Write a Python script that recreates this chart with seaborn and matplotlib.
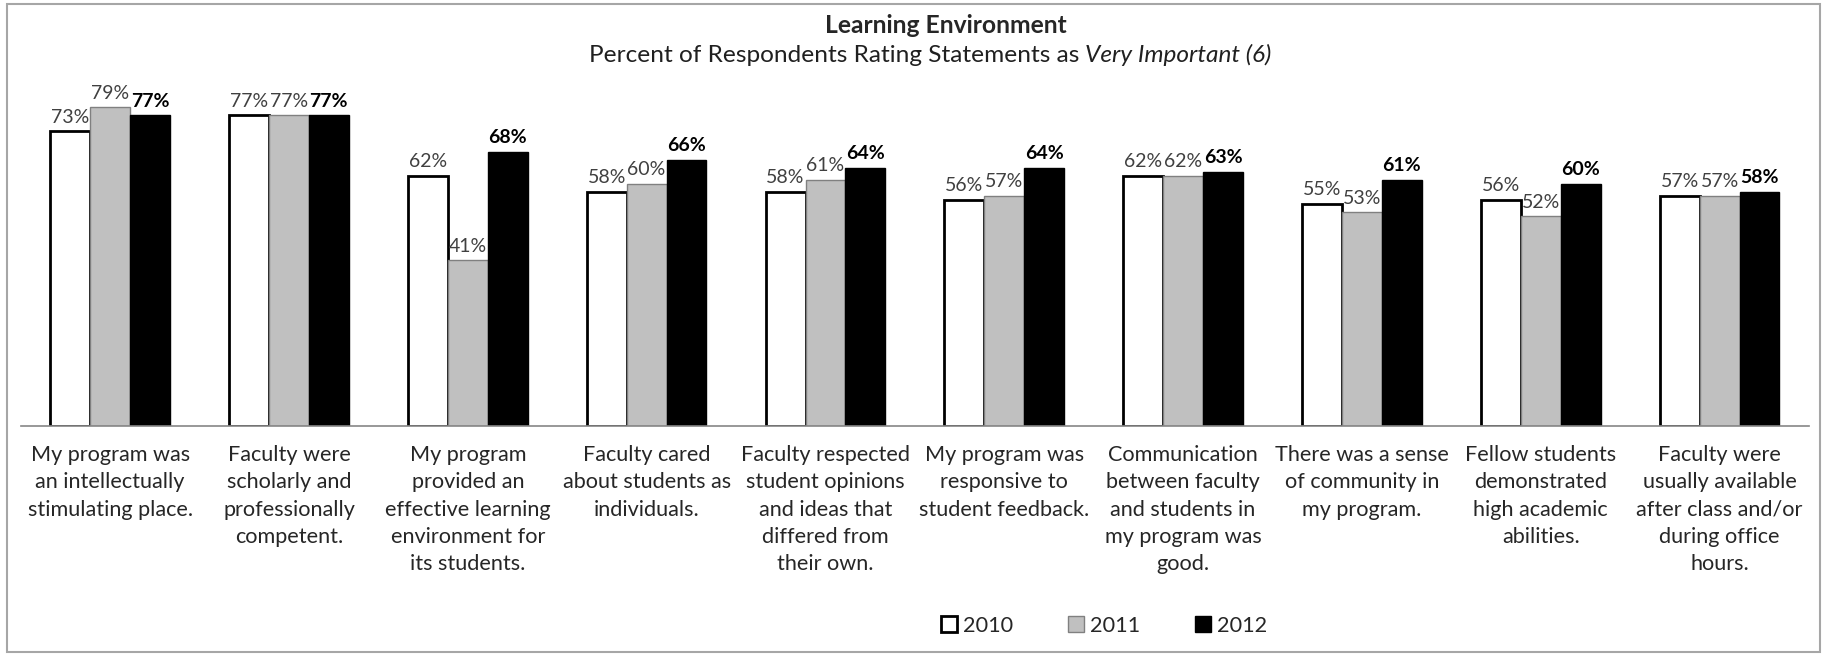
import matplotlib
matplotlib.use('Agg')
import matplotlib.pyplot as plt
import numpy as np
import pandas as pd
import seaborn as sns
from matplotlib.patches import Patch, Rectangle

# Data
statements = [
    'My program was\nan intellectually\nstimulating place.',
    'Faculty were\nscholarly and\nprofessionally\ncompetent.',
    'My program\nprovided an\neffective learning\nenvironment for\nits students.',
    'Faculty cared\nabout students as\nindividuals.',
    'Faculty respected\nstudent opinions\nand ideas that\ndiffered from\ntheir own.',
    'My program was\nresponsive to\nstudent feedback.',
    'Communication\nbetween faculty\nand students in\nmy program was\ngood.',
    'There was a sense\nof community in\nmy program.',
    'Fellow students\ndemonstrated\nhigh academic\nabilities.',
    'Faculty were\nusually available\nafter class and/or\nduring office\nhours.',
]
years = ['2010', '2011', '2012']
pct_2010 = [73, 77, 62, 58, 58, 56, 62, 55, 56, 57]
pct_2011 = [79, 77, 41, 60, 61, 57, 62, 53, 52, 57]
pct_2012 = [77, 77, 68, 66, 64, 64, 63, 61, 60, 58]

bar_fill = {'2010': 'white', '2011': '#c0c0c0', '2012': 'black'}
bar_edge = {'2010': 'black', '2011': '#808080', '2012': 'black'}
edge_width = {'2010': 2.0, '2011': 1.0, '2012': 1.0}

FONT = ['Lato', 'DejaVu Sans']
TXT = 15.6
VAL = 14


def build_frame():
    rows = []
    for year, values in zip(years, [pct_2010, pct_2011, pct_2012]):
        for s, v in zip(statements, values):
            rows.append({'Statement': s, 'Year': year, 'Percent': v})
    return pd.DataFrame(rows)


def plot_chart(df):
    sns.set_style('white')
    plt.rcParams['font.family'] = FONT

    fig = plt.figure(figsize=(18.28, 6.54), dpi=100)
    ax = fig.add_axes([0.01132, 0.3491, 0.9783, 0.5546])

    sns.barplot(data=df, x='Statement', y='Percent', hue='Year', order=statements,
                hue_order=years, palette=bar_fill, saturation=1, width=0.669,
                errorbar=None, legend=False, ax=ax)

    # bar outlines and value labels
    for container, year, values in zip(ax.containers, years, [pct_2010, pct_2011, pct_2012]):
        for bar in container:
            bar.set_edgecolor(bar_edge[year])
            bar.set_linewidth(edge_width[year])
        bold = year == '2012'
        ax.bar_label(container, labels=[f'{v}%' for v in values], padding=4,
                     fontsize=VAL, color='black' if bold else '#404040',
                     fontweight='bold' if bold else 'normal')

    ax.set_ylim(0, 90)
    ax.set_xlim(-0.5, len(statements) - 0.5)
    ax.set_yticks([])
    ax.set_xlabel('')
    ax.set_ylabel('')
    for side in ['left', 'top', 'right']:
        ax.spines[side].set_visible(False)
    ax.spines['bottom'].set_color('#868686')
    ax.spines['bottom'].set_linewidth(1.2)

    ax.set_xticks(range(len(statements)))
    ax.set_xticklabels(statements, fontsize=TXT, color='#262626', linespacing=1.45)
    ax.set_xticks(np.arange(-0.5, len(statements)), minor=True)
    ax.tick_params(axis='x', which='major', length=0, pad=14)
    ax.tick_params(axis='x', which='minor', length=7, color='#868686', width=1.2)

    # titles
    fig.text(0.5175, 0.961, 'Learning Environment', ha='center', va='center',
             fontsize=17.7, fontweight='bold')
    sub1 = fig.text(0.3, 0.915, 'Percent of Respondents Rating Statements as',
                    ha='left', va='center', fontsize=17.6, color='#202020')
    sub2 = ax.annotate('Very Important (6)', xy=(1, 0), xycoords=sub1,
                       xytext=(4, 0), textcoords='offset points',
                       ha='left', va='bottom', fontsize=17.6, style='italic', color='#202020')
    fig.canvas.draw()
    b1 = sub1.get_window_extent()
    b2 = sub2.get_window_extent()
    total = (b2.x1 - b1.x0) / fig.bbox.width
    sub1.set_x(0.509 - total / 2)

    handles = [Patch(facecolor=bar_fill[y], edgecolor=bar_edge[y], linewidth=edge_width[y], label=y)
               for y in years]
    fig.legend(handles=handles, loc='center', bbox_to_anchor=(0.604, 0.043), ncol=3,
               frameon=False, fontsize=TXT, handlelength=0.75, handleheight=0.75,
               handletextpad=0.3, columnspacing=2.5)

    fig.patches.append(Rectangle((0.0038, 0.003), 0.9918, 0.9909, transform=fig.transFigure,
                                 fill=False, edgecolor='#a6a6a6', linewidth=1.5))

    fig.savefig('out.png', dpi=100, facecolor='white')


def main():
    df = build_frame()
    plot_chart(df)


if __name__ == "__main__":
    main()
